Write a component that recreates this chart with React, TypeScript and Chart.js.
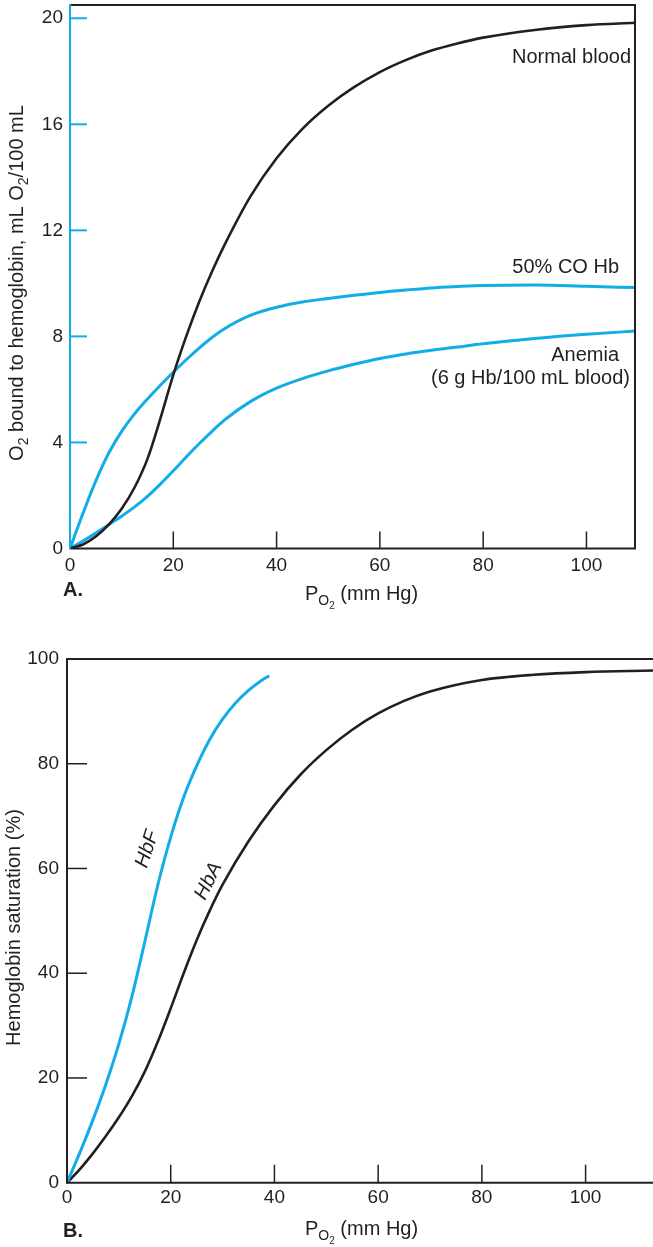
import { useEffect, useRef } from 'react';
import { Chart, registerables } from 'chart.js';

Chart.register(...registerables);

const CYAN = '#12ade8';
const INK = '#231f20';
const SANS = "'Liberation Sans', Arial, Helvetica, sans-serif";

// ---------- Panel A: O2 content (mL O2 / 100 mL) vs PO2 ----------
const A_PO2 = [0, 2.5, 5, 7.5, 10, 12.5, 15, 17.5, 20, 22.5, 25, 27.5, 30, 35, 40, 45, 50, 55, 60, 65, 70, 75, 80, 90, 100, 109.4];
const A_NORMAL_BLOOD = [0, 0.15, 0.45, 0.9, 1.5, 2.3, 3.38, 4.9, 6.55, 8.0, 9.3, 10.45, 11.48, 13.3, 14.72, 15.83, 16.7, 17.4, 17.97, 18.42, 18.78, 19.05, 19.27, 19.56, 19.74, 19.83];
const A_CO_HB = [0, 1.32, 2.55, 3.6, 4.42, 5.08, 5.64, 6.16, 6.65, 7.12, 7.56, 7.96, 8.3, 8.8, 9.1, 9.3, 9.43, 9.55, 9.66, 9.75, 9.83, 9.88, 9.92, 9.94, 9.89, 9.84];
const A_ANEMIA = [0, 0.28, 0.58, 0.9, 1.22, 1.57, 1.97, 2.43, 2.93, 3.45, 3.95, 4.42, 4.86, 5.55, 6.05, 6.41, 6.7, 6.95, 7.17, 7.34, 7.48, 7.6, 7.72, 7.92, 8.08, 8.2];
const A_X_TICKS = [0, 20, 40, 60, 80, 100];
const A_Y_TICKS = [0, 4, 8, 12, 16, 20];

// ---------- Panel B: saturation (%) vs PO2 ----------
const B_PO2_HBA = [0, 2.5, 5, 7.5, 10, 12.5, 15, 17.5, 20, 22.5, 25, 27.5, 30, 35, 40, 45, 50, 55, 60, 65, 70, 80, 90, 100, 113];
const B_HBA = [0, 2.6, 5.6, 8.9, 12.5, 16.5, 21.2, 26.9, 33.3, 40, 46.3, 51.9, 56.9, 65.2, 72.1, 77.9, 82.6, 86.5, 89.6, 92.0, 93.8, 96.0, 97.0, 97.5, 97.8];
const B_PO2_HBF = [0, 2.5, 5, 7.5, 10, 12.5, 15, 17.5, 20, 22.5, 25, 27.5, 30, 32.5, 35, 37.5, 39];
const B_HBF = [0, 5.8, 12, 18.8, 26.5, 35.5, 46, 56.8, 66, 73.6, 79.6, 84.6, 88.5, 91.6, 94, 95.9, 96.8];
const B_X_TICKS = [0, 20, 40, 60, 80, 100];
const B_Y_TICKS = [0, 20, 40, 60, 80, 100];

type Part = { t: string; lvl?: number };

const pts = (xs: number[], ys: number[]) => xs.map((x, i) => ({ x, y: ys[i] }));

function seg(ctx: CanvasRenderingContext2D, x1: number, y1: number, x2: number, y2: number, color: string, w: number) {
  ctx.beginPath();
  ctx.strokeStyle = color;
  ctx.lineWidth = w;
  ctx.lineCap = 'butt';
  ctx.moveTo(x1, y1);
  ctx.lineTo(x2, y2);
  ctx.stroke();
}

const LVL_SIZE = [20, 14, 10];
const LVL_DY = [0, 5, 9];

function richWidth(ctx: CanvasRenderingContext2D, parts: Part[]) {
  let w = 0;
  for (const p of parts) {
    ctx.font = `${LVL_SIZE[p.lvl || 0]}px ${SANS}`;
    w += ctx.measureText(p.t).width;
  }
  return w;
}
function richDraw(ctx: CanvasRenderingContext2D, parts: Part[], x: number, y: number) {
  ctx.textAlign = 'left';
  ctx.textBaseline = 'alphabetic';
  ctx.fillStyle = INK;
  let cx = x;
  for (const p of parts) {
    const l = p.lvl || 0;
    ctx.font = `${LVL_SIZE[l]}px ${SANS}`;
    ctx.fillText(p.t, cx, y + LVL_DY[l]);
    cx += ctx.measureText(p.t).width;
  }
}

const X_TITLE: Part[] = [{ t: 'P' }, { t: 'O', lvl: 1 }, { t: '2', lvl: 2 }, { t: ' (mm Hg)' }];
const A_Y_TITLE: Part[] = [
  { t: 'O' }, { t: '2', lvl: 1 }, { t: ' bound to hemoglobin, mL O' }, { t: '2', lvl: 1 }, { t: '/100 mL' },
];
const B_Y_TITLE: Part[] = [{ t: 'Hemoglobin saturation (%)' }];

function drawYTitle(ctx: CanvasRenderingContext2D, parts: Part[], baseX: number, centerY: number) {
  const w = richWidth(ctx, parts);
  ctx.save();
  ctx.translate(baseX, centerY);
  ctx.rotate(-Math.PI / 2);
  richDraw(ctx, parts, -w / 2, 0);
  ctx.restore();
}

function text(ctx: CanvasRenderingContext2D, s: string, x: number, y: number, align: CanvasTextAlign, font: string) {
  ctx.font = font;
  ctx.textAlign = align;
  ctx.textBaseline = 'alphabetic';
  ctx.fillStyle = INK;
  ctx.fillText(s, x, y);
}

function decor(draw: (chart: any, ctx: CanvasRenderingContext2D) => void) {
  return {
    id: 'decor',
    afterDraw(chart: any) {
      const ctx = chart.ctx as CanvasRenderingContext2D;
      ctx.save();
      draw(chart, ctx);
      ctx.restore();
    },
  };
}

function scaleOpts(kind: 'x' | 'y', min: number, max: number, tickVals: number[], size: number, pad: number) {
  return {
    type: 'linear' as const,
    min,
    max,
    grid: { display: false, drawTicks: false },
    border: { display: false },
    ticks: {
      padding: pad,
      color: INK,
      font: { family: SANS, size: 19 },
      maxRotation: 0,
      autoSkip: false,
    },
    afterBuildTicks: (s: any) => {
      s.ticks = tickVals.map((v) => ({ value: v }));
    },
    afterFit: (s: any) => {
      if (kind === 'y') s.width = size;
      else s.height = size;
      s.paddingTop = 0;
      s.paddingBottom = 0;
      s.paddingLeft = 0;
      s.paddingRight = 0;
    },
  };
}

const commonOpts = {
  responsive: false,
  animation: false as const,
  devicePixelRatio: 1,
  events: [] as any[],
  plugins: { legend: { display: false }, tooltip: { enabled: false } },
  elements: {
    point: { radius: 0 },
    line: { cubicInterpolationMode: 'monotone' as const, fill: false },
  },
};

export default function App() {
  const refA = useRef<HTMLCanvasElement>(null);
  const refB = useRef<HTMLCanvasElement>(null);

  useEffect(() => {
    document.body.style.margin = '0';
    document.body.style.background = '#fff';

    const decorA = decor((chart, ctx) => {
      const { left, right, top, bottom } = chart.chartArea;
      const xs = chart.scales.x;
      const ys = chart.scales.y;
      seg(ctx, left, top, right + 1, top, INK, 2);
      seg(ctx, right, top, right, bottom, INK, 2);
      seg(ctx, left, bottom, right + 1, bottom, INK, 2);
      seg(ctx, left, top - 1, left, bottom + 1, CYAN, 2);
      A_Y_TICKS.filter((v) => v > 0).forEach((v) => {
        const py = ys.getPixelForValue(v);
        seg(ctx, left, py, left + 17, py, CYAN, 2);
      });
      A_X_TICKS.filter((v) => v > 0).forEach((v) => {
        const px = xs.getPixelForValue(v);
        seg(ctx, px, bottom, px, bottom - 17, INK, 1.5);
      });
      const f = `20px ${SANS}`;
      text(ctx, 'Normal blood', 631, 63, 'right', f);
      text(ctx, '50% CO Hb', 619, 273, 'right', f);
      text(ctx, 'Anemia', 619, 361, 'right', f);
      text(ctx, '(6 g Hb/100 mL blood)', 630, 384, 'right', f);
      richDraw(ctx, X_TITLE, 305, 600);
      drawYTitle(ctx, A_Y_TITLE, 23, 283);
      text(ctx, 'A.', 63, 596, 'left', `bold 20px ${SANS}`);
    });

    const a = new Chart(refA.current as HTMLCanvasElement, {
      type: 'line',
      data: {
        datasets: [
          { label: 'Normal blood', data: pts(A_PO2, A_NORMAL_BLOOD), borderColor: INK, borderWidth: 2.6 },
          { label: '50% CO Hb', data: pts(A_PO2, A_CO_HB), borderColor: CYAN, borderWidth: 3 },
          { label: 'Anemia (6 g Hb/100 mL blood)', data: pts(A_PO2, A_ANEMIA), borderColor: CYAN, borderWidth: 3 },
        ],
      },
      options: {
        ...commonOpts,
        layout: { padding: { top: 5, right: 18, bottom: 0, left: 0 } },
        scales: {
          x: scaleOpts('x', 0, 109.4, A_X_TICKS, 71.5, 6),
          y: scaleOpts('y', 0, 20.5, A_Y_TICKS, 70, 7),
        },
      } as any,
      plugins: [decorA],
    });

    const decorB = decor((chart, ctx) => {
      const { left, right, top, bottom } = chart.chartArea;
      const xs = chart.scales.x;
      const ys = chart.scales.y;
      seg(ctx, left, top, right, top, INK, 2);
      seg(ctx, left, top - 1, left, bottom + 1, INK, 2);
      seg(ctx, left, bottom, right, bottom, INK, 2);
      B_Y_TICKS.filter((v) => v > 0 && v < 100).forEach((v) => {
        const py = ys.getPixelForValue(v);
        seg(ctx, left, py, left + 20, py, INK, 1.5);
      });
      B_X_TICKS.filter((v) => v > 0).forEach((v) => {
        const px = xs.getPixelForValue(v);
        seg(ctx, px, bottom, px, bottom - 18, INK, 1.5);
      });
      const lab = (s: string, px: number, py: number, deg: number) => {
        ctx.save();
        ctx.translate(xs.getPixelForValue(px), ys.getPixelForValue(py));
        ctx.rotate((deg * Math.PI) / 180);
        ctx.font = `italic 20px ${SANS}`;
        ctx.textAlign = 'center';
        ctx.textBaseline = 'middle';
        ctx.fillStyle = INK;
        ctx.fillText(s, 0, 0);
        ctx.restore();
      };
      lab('HbF', 15.5, 63.7, -72);
      lab('HbA', 27.3, 57.6, -64);
      richDraw(ctx, X_TITLE, 305, 615);
      drawYTitle(ctx, B_Y_TITLE, 20, 307.5);
      text(ctx, 'B.', 63, 617, 'left', `bold 20px ${SANS}`);
    });

    const b = new Chart(refB.current as HTMLCanvasElement, {
      type: 'line',
      data: {
        datasets: [
          { label: 'HbF', data: pts(B_PO2_HBF, B_HBF), borderColor: CYAN, borderWidth: 3 },
          { label: 'HbA', data: pts(B_PO2_HBA, B_HBA), borderColor: INK, borderWidth: 2.6 },
        ],
      },
      options: {
        ...commonOpts,
        layout: { padding: { top: 39, right: 0, bottom: 0, left: 0 } },
        scales: {
          x: scaleOpts('x', 0, 113, B_X_TICKS, 64.3, 4),
          y: scaleOpts('y', 0, 100, B_Y_TICKS, 67, 8),
        },
      } as any,
      plugins: [decorB],
    });

    return () => {
      a.destroy();
      b.destroy();
    };
  }, []);

  return (
    <div style={{ position: 'relative', width: 653, height: 1247, background: '#fff' }}>
      <canvas ref={refA} width={653} height={620} style={{ position: 'absolute', left: 0, top: 0, display: 'block' }} />
      <canvas ref={refB} width={653} height={627} style={{ position: 'absolute', left: 0, top: 620, display: 'block' }} />
    </div>
  );
}
